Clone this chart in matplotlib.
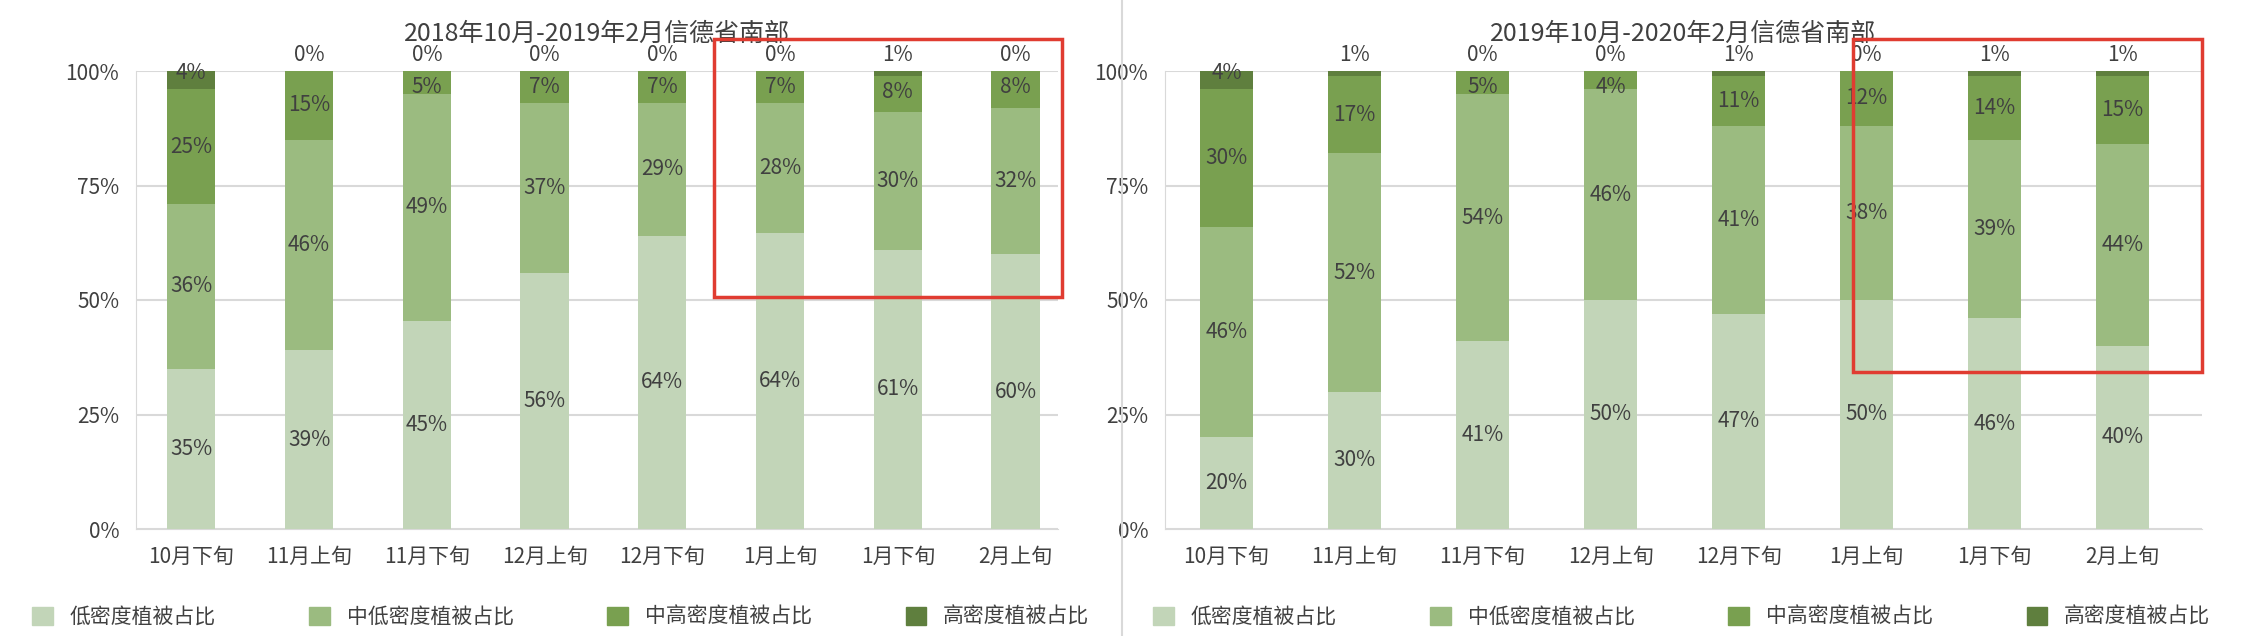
import matplotlib.pyplot as plt
import numpy as np
from matplotlib.patches import Rectangle
from matplotlib.lines import Line2D

plt.rcParams['font.family'] = ['Noto Sans CJK SC', 'DejaVu Sans']

periods = ['10月下旬', '11月上旬', '11月下旬', '12月上旬', '12月下旬', '1月上旬', '1月下旬', '2月上旬']
series = ['低密度植被占比', '中低密度植被占比', '中高密度植被占比', '高密度植被占比']
colors = ['#c2d5b8', '#9bbb80', '#79a050', '#5f7f3e']

title_a = '2018年10月-2019年2月信德省南部'
low_a = [35, 39, 45, 56, 64, 64, 61, 60]
midlow_a = [36, 46, 49, 37, 29, 28, 30, 32]
midhigh_a = [25, 15, 5, 7, 7, 7, 8, 8]
high_a = [4, 0, 0, 0, 0, 0, 1, 0]

title_b = '2019年10月-2020年2月信德省南部'
low_b = [20, 30, 41, 50, 47, 50, 46, 40]
midlow_b = [46, 52, 54, 46, 41, 38, 39, 44]
midhigh_b = [30, 17, 5, 4, 11, 12, 14, 15]
high_b = [4, 1, 0, 0, 1, 0, 1, 1]

TXT = '#404040'
fig = plt.figure(figsize=(22.42, 6.36), dpi=100)


def panel(rect, title, data, box, xlim):
    ax = fig.add_axes(rect)
    x = np.arange(len(periods))
    arr = np.array(data, dtype=float)
    arr = arr / arr.sum(axis=0) * 100
    bottom = np.zeros(len(periods))
    for k in range(4):
        ax.bar(x, arr[k], 0.41, bottom=bottom, color=colors[k], zorder=3)
        for i in range(len(periods)):
            if k < 3:
                y = bottom[i] + arr[k][i] / 2
                if k == 2 and arr[k][i] < 9:
                    y = bottom[i] + arr[k][i] - 3.5
            else:
                y = 103.5 if data[k][i] < 3 else 99.5
            ax.text(x[i], y, '%d%%' % data[k][i], ha='center', va='center',
                    fontsize=15, color=TXT, zorder=4)
        bottom += arr[k]
    ax.set_xlim(*xlim)
    ax.set_ylim(0, 100)
    ax.set_yticks([0, 25, 50, 75, 100])
    ax.set_yticklabels(['0%', '25%', '50%', '75%', '100%'])
    ax.set_xticks(x)
    ax.set_xticklabels(periods)
    ax.tick_params(length=0, labelsize=15, labelcolor=TXT, pad=12)
    ax.grid(axis='y', color='#d9d9d9', lw=1.5, zorder=0)
    for s in ['top', 'right']:
        ax.spines[s].set_visible(False)
    ax.spines['left'].set_color('#d9d9d9')
    ax.spines['bottom'].set_color('#d9d9d9')
    ax.set_title(title, fontsize=18, color=TXT, pad=22)
    fig.patches.append(Rectangle(box[:2], box[2], box[3], transform=fig.transFigure,
                                 fill=False, ec='#e03c31', lw=2.5, zorder=10))
    return ax


W, H = 2242, 636
panel([136 / W, 1 - 529 / H, 922 / W, 458 / H], title_a,
      [low_a, midlow_a, midhigh_a, high_a], [714 / W, 1 - 297 / H, 348 / W, 258 / H],
      (-0.47, 7.36))
panel([1165 / W, 1 - 529 / H, 1037 / W, 458 / H], title_b,
      [low_b, midlow_b, midhigh_b, high_b], [1853 / W, 1 - 372 / H, 349 / W, 333 / H],
      (-0.48, 7.62))

fig.add_artist(Line2D([1122 / W, 1122 / W], [0, 1], color='#d9d9d9', lw=1.5))

handles = [Rectangle((0, 0), 1, 1, color=c) for c in colors]
for cx in [0.25, 0.75]:
    fig.legend(handles, series, loc='center', bbox_to_anchor=(cx, 1 - 617 / H), ncol=4,
               frameon=False, fontsize=15, labelcolor=TXT, handlelength=1.0,
               handleheight=1.0, columnspacing=4.5)

fig.savefig('out.png')
